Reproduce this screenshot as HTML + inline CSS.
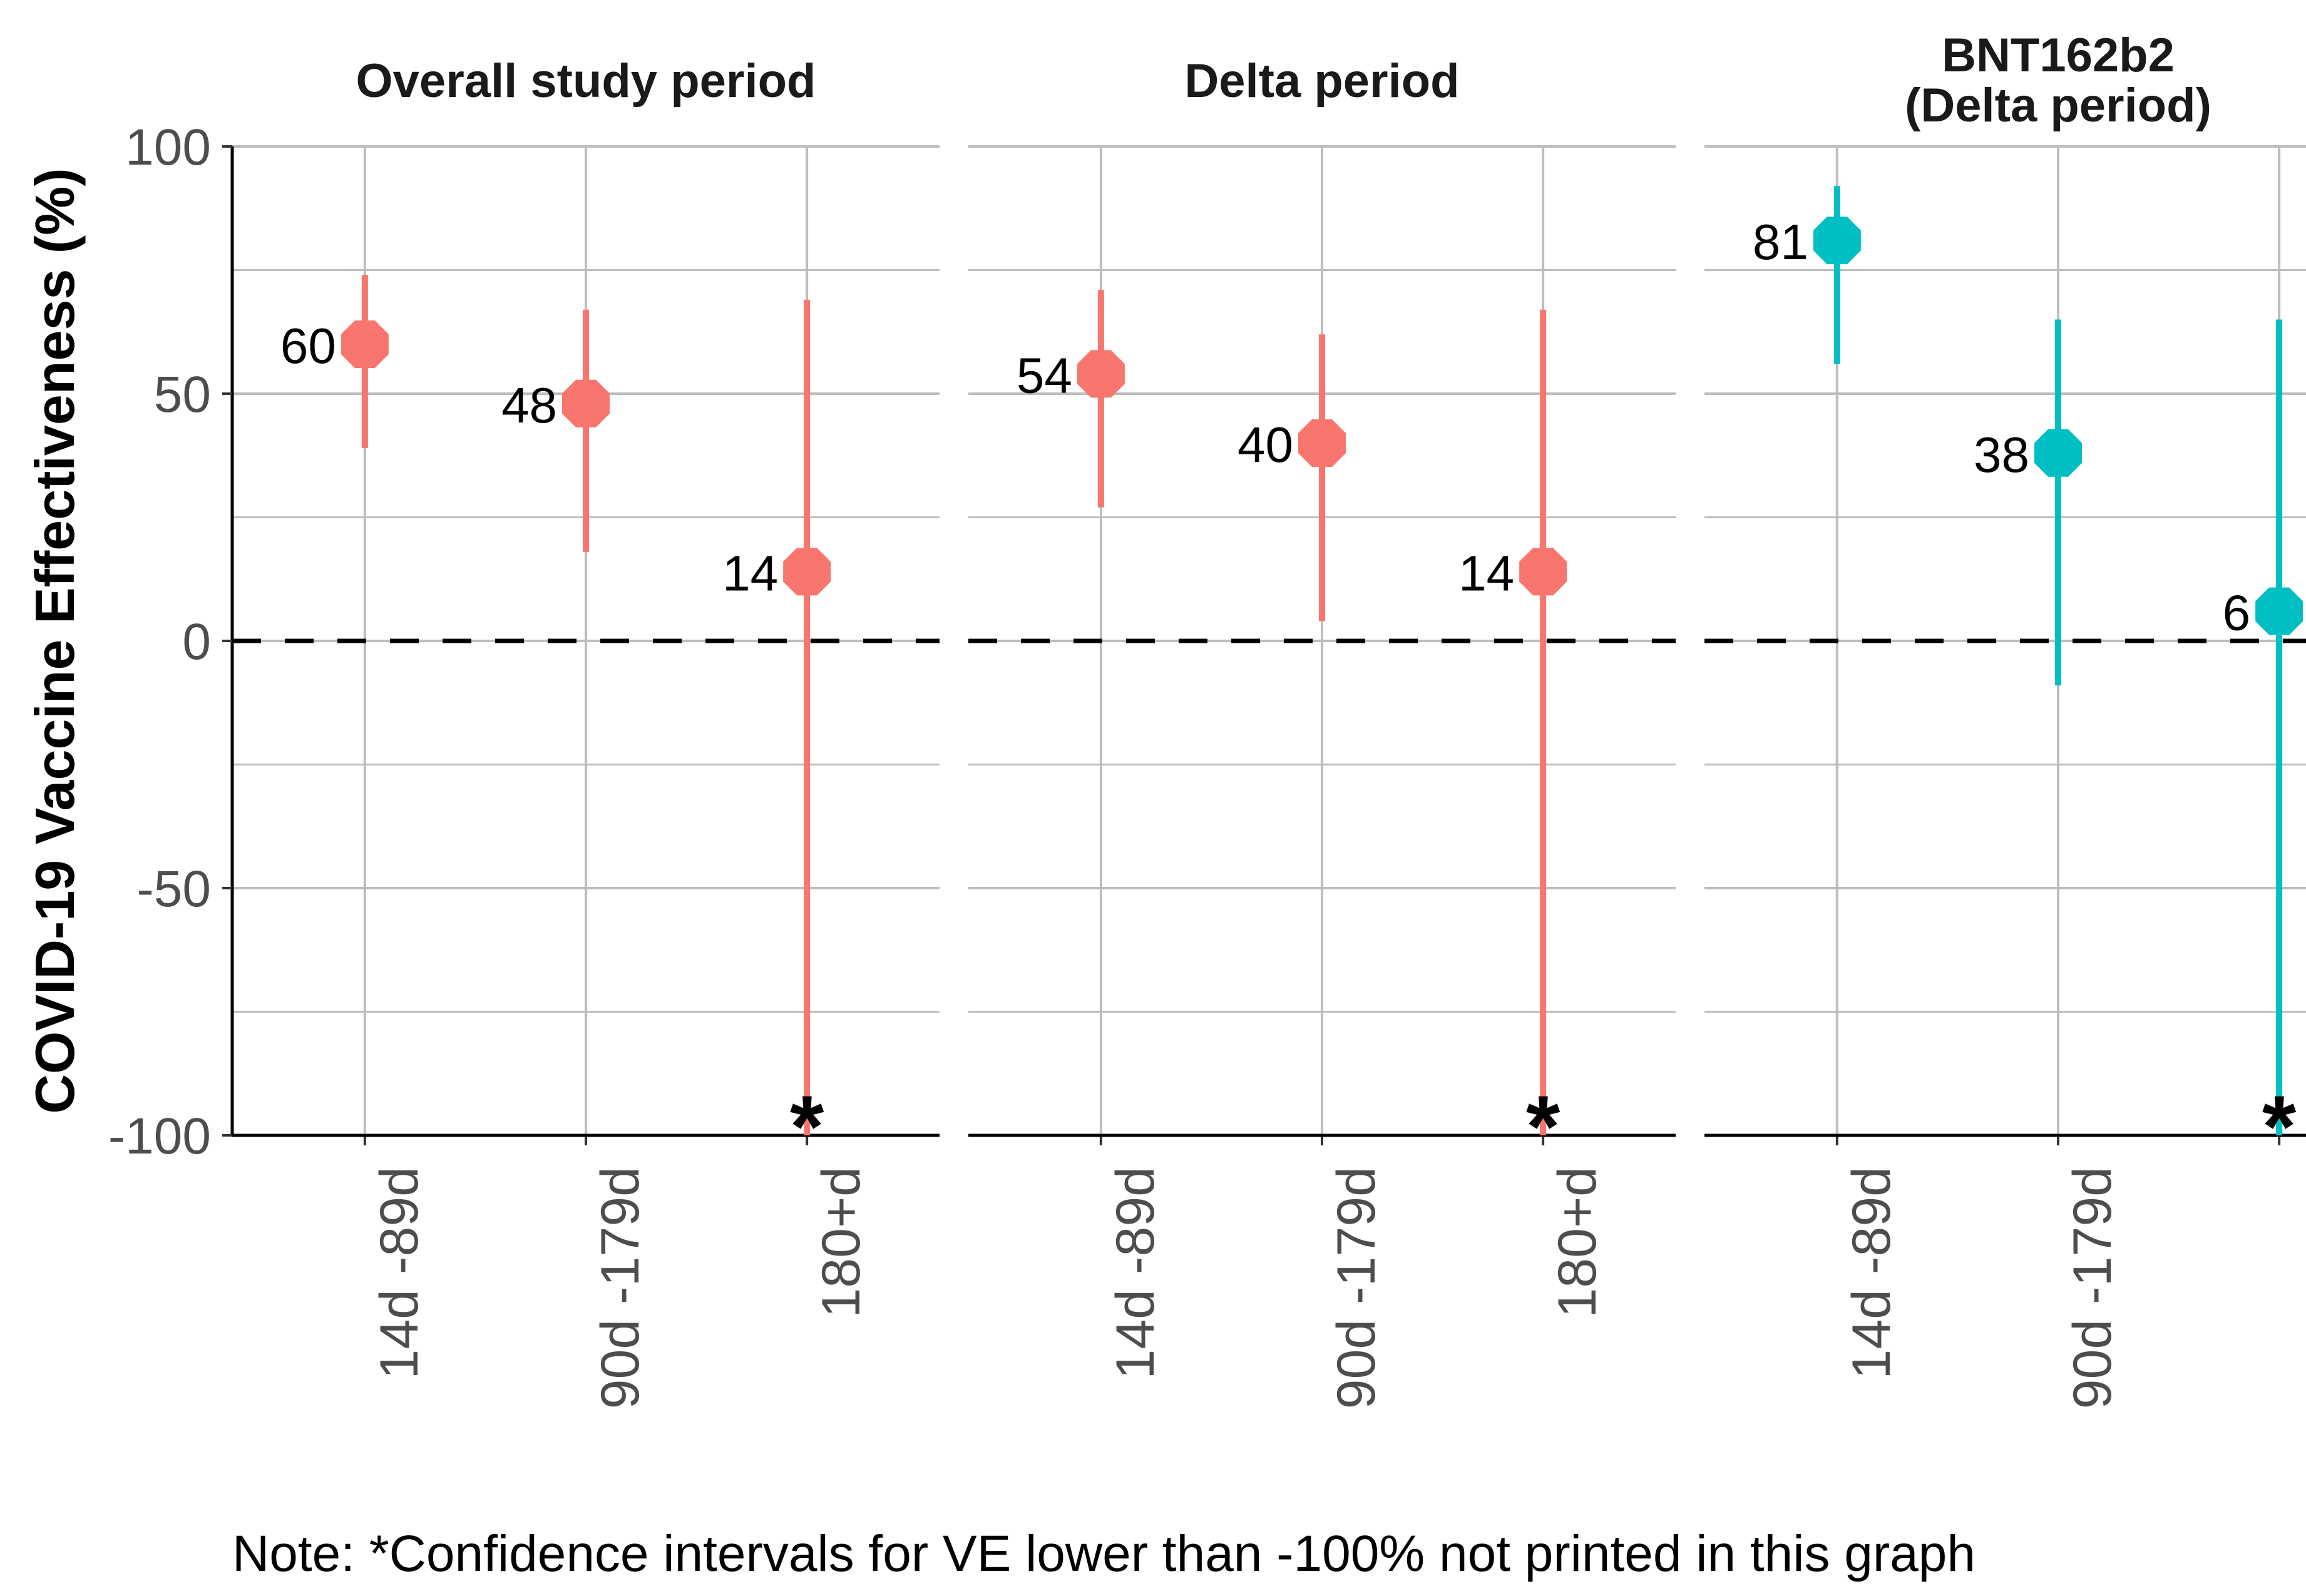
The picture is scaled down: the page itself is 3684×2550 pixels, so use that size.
<!DOCTYPE html>
<html><head><meta charset="utf-8"><style>
html,body{margin:0;padding:0;background:#fff;}
svg{display:block;font-family:"Liberation Sans",Arial,sans-serif;}
</style></head><body>
<svg id="chart" width="3684" height="2550" viewBox="0 0 3684 2550" xmlns="http://www.w3.org/2000/svg">
<rect width="3684" height="2550" fill="#fff"/>
<g id="grid"></g>
<g id="marks"></g>
<text x="0" y="0" transform="translate(118,1024) rotate(-90)" text-anchor="middle" font-size="88" font-weight="bold" fill="#000">COVID-19 Vaccine Effectiveness (%)</text>
<text x="371" y="2510" font-size="82" fill="#000">Note: *Confidence intervals for VE lower than -100% not printed in this graph</text>
</svg>
<script>
const panelTitles = [["Overall study period"], ["Delta period"], ["BNT162b2", "(Delta period)"]];
const categories = ["14d -89d", "90d -179d", "180+d"];
const estimates = [[60, 48, 14], [54, 40, 14], [81, 38, 6]];
const lowers = [[39, 18, -100], [27, 4, -100], [56, -9, -100]];
const uppers = [[74, 67, 69], [71, 62, 67], [92, 65, 65]];
const truncated = [[false, false, true], [false, false, true], [false, false, true]];
const yTicks = [-100, -50, 0, 50, 100];
const yMinor = [-75, -25, 25, 75];
const colors = ["#F8766D", "#F8766D", "#00BFC4"];

const NS = "http://www.w3.org/2000/svg";
const top0 = 234, bot0 = 1814, panelW = 1130, step0 = 1176, left0 = 371;
function y(v){ return top0 + (100 - v) / 200 * (bot0 - top0); }
function px(p){ return left0 + p * step0; }
function x(p, i){ const step = panelW / 3.2; return px(p) + step * (0.6 + i); }
function mk(parent, tag, attrs){ const e = document.createElementNS(NS, tag); for (const k in attrs) e.setAttribute(k, attrs[k]); parent.appendChild(e); return e; }
const grid = document.getElementById("grid"), marks = document.getElementById("marks");

for (let p = 0; p < 3; p++){
  const x0 = px(p), x1 = Math.min(px(p) + panelW, 3684);
  yMinor.forEach(v => { const l = mk(grid, "line", {x1:x0, x2:x1, y1:y(v), y2:y(v), stroke:"#bdbdbd", "stroke-width":3});
    
     });
  yTicks.forEach(v => { const l = mk(grid, "line", {x1:x0, x2:x1, y1:y(v), y2:y(v), stroke:"#bdbdbd", "stroke-width":4});
    
     });
  categories.forEach((c, i) => {
    const cx = x(p, i);
    const l = mk(grid, "line", {x1:cx, x2:cx, y1:top0, y2:bot0, stroke:"#bdbdbd", "stroke-width":4});
    
    
    const t = mk(grid, "line", {x1:cx, x2:cx, y1:bot0, y2:bot0 + 16, stroke:"#333", "stroke-width":4});
    
    
    if (cx < 3600) {
      const tx = mk(grid, "text", {transform:`translate(${cx + 84},${bot0 + 50}) rotate(-90)`, "text-anchor":"end", "font-size":86, fill:"#4d4d4d"});
      tx.textContent = c;
      
      
    }
  });
  const z = mk(grid, "line", {x1:x0, x2:x1, y1:y(0), y2:y(0), stroke:"#000", "stroke-width":7, "stroke-dasharray":"46 38"});
  
  
  const ax = mk(grid, "line", {x1:x0, x2:x1, y1:bot0, y2:bot0, stroke:"#000", "stroke-width":5});
  
  
  const lines = panelTitles[p];
  lines.forEach((s, k) => {
    const ty = lines.length === 1 ? 155 : 114 + k * 80;
    const t = mk(grid, "text", {x:px(p) + panelW / 2, y:ty, "text-anchor":"middle", "font-size":76, "font-weight":"bold", fill:"#1a1a1a"});
    t.textContent = s;
    
    
  });
  categories.forEach((c, i) => {
    const cx = x(p, i), col = colors[p];
    const lo = Math.max(lowers[p][i], -100);
    const ci = mk(marks, "line", {x1:cx, x2:cx, y1:y(uppers[p][i]), y2:y(lo), stroke:col, "stroke-width":10});
    
    
    const cy = y(estimates[p][i]), r = 38, s = 16;
    const pt = mk(marks, "polygon", {points:`${cx-s},${cy-r} ${cx+s},${cy-r} ${cx+r},${cy-s} ${cx+r},${cy+s} ${cx+s},${cy+r} ${cx-s},${cy+r} ${cx-r},${cy+s} ${cx-r},${cy-s}`, fill:col});
    
    
    const lb = mk(marks, "text", {x:cx - 46, y:cy + 30, "text-anchor":"end", "font-size":80, fill:"#000"});
    lb.textContent = String(estimates[p][i]);
    
    
    if (truncated[p][i]) {
      const st = mk(marks, "text", {x:cx, y:bot0 + 34, "text-anchor":"middle", "font-size":140, "font-weight":"bold", fill:"#000"});
      st.textContent = "*";
      
      
    }
  });
}
const ya = mk(grid, "line", {x1:left0, x2:left0, y1:top0, y2:bot0, stroke:"#000", "stroke-width":5});


yTicks.forEach(v => {
  const t = mk(grid, "line", {x1:left0 - 16, x2:left0, y1:y(v), y2:y(v), stroke:"#333", "stroke-width":4});
  
  
  const tx = mk(grid, "text", {x:left0 - 34, y:y(v) + 29, "text-anchor":"end", "font-size":82, fill:"#4d4d4d"});
  tx.textContent = String(v);
  
  
});
</script>
</body></html>
